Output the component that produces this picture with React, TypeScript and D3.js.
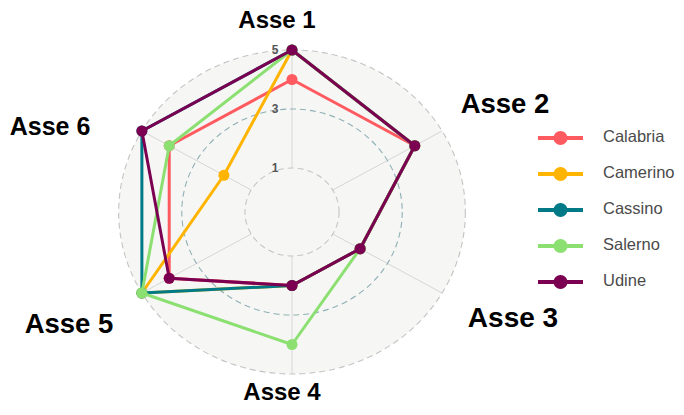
import { useEffect, useRef } from 'react';
import * as d3 from 'd3';

// axes, series and values
const axes = ['Asse 1', 'Asse 2', 'Asse 3', 'Asse 4', 'Asse 5', 'Asse 6'];
const seriesNames = ['Calabria', 'Camerino', 'Cassino', 'Salerno', 'Udine'];
const calabria = [4, 4, 2, 2, 4, 4];
const camerino = [5, 4, 2, 2, 5, 2];
const cassino = [5, 4, 2, 2, 5, 5];
const salerno = [5, 4, 2, 4, 5, 4];
const udine = [5, 4, 2, 2, 4, 5];
const gridValues = [1, 3, 5];
const gridLabels = ['1', '3', '5'];

const colors = ['#FF5A5F', '#FFB400', '#007A87', '#8CE071', '#7B0051'];

// where the big axis titles sit (they are pasted over the plot, not on a circle)
const titleLayout = [
  { x: 277, y: 28, size: 24 },
  { x: 505, y: 113, size: 27.5 },
  { x: 513, y: 327, size: 28 },
  { x: 282, y: 400, size: 24 },
  { x: 69, y: 333, size: 27.5 },
  { x: 50, y: 135, size: 25 },
];

const width = 684;
const height = 415;

const App = () => {
  const svgRef = useRef<SVGSVGElement>(null);

  useEffect(() => {
    if (!svgRef.current) return;
    const svg = d3.select(svgRef.current);
    svg.selectAll('*').remove();

    const cx = 292;
    const cy = 212;
    const sx = 1.07; // the picture is a bit wider than tall

    const r = d3.scaleLinear().domain([1, 5]).range([44, 162]);
    const angle = d3.scaleLinear().domain([0, axes.length]).range([0, 2 * Math.PI]);

    const px = (i: number, v: number) => cx + sx * r(v) * Math.sin(angle(i));
    const py = (i: number, v: number) => cy - r(v) * Math.cos(angle(i));

    const g = svg.append('g');

    // background disc
    g.append('ellipse')
      .attr('cx', cx)
      .attr('cy', cy)
      .attr('rx', sx * r(5))
      .attr('ry', r(5))
      .attr('fill', '#F6F6F5');

    // axis lines
    g.selectAll('.axis')
      .data(axes)
      .enter()
      .append('line')
      .attr('x1', (d, i) => px(i, 1))
      .attr('y1', (d, i) => py(i, 1))
      .attr('x2', (d, i) => px(i, 5))
      .attr('y2', (d, i) => py(i, 5))
      .attr('stroke', '#d6d6d6')
      .attr('stroke-width', 1);

    // grid rings
    g.selectAll('.ring')
      .data(gridValues)
      .enter()
      .append('ellipse')
      .attr('cx', cx)
      .attr('cy', cy)
      .attr('rx', d => sx * r(d))
      .attr('ry', d => r(d))
      .attr('fill', 'none')
      .attr('stroke', (d, i) => (i === 1 ? '#8fb0b4' : '#c4c4c4'))
      .attr('stroke-width', 1.1)
      .attr('stroke-dasharray', '6,4');

    // grid labels
    g.selectAll('.gridLabel')
      .data(gridValues)
      .enter()
      .append('text')
      .attr('x', cx - 17)
      .attr('y', d => cy - r(d) + 1)
      .attr('dominant-baseline', 'middle')
      .attr('text-anchor', 'middle')
      .style('font-family', 'Liberation Sans, Arial, sans-serif')
      .style('font-size', '12px')
      .style('font-weight', 'bold')
      .style('fill', '#555')
      .text((d, i) => gridLabels[i]);

    const series = [calabria, camerino, cassino, salerno, udine];

    const line = d3.line<number>()
      .x((d, i) => px(i, d))
      .y((d, i) => py(i, d))
      .curve(d3.curveLinearClosed);

    series.forEach((vals, s) => {
      const sg = g.append('g');
      sg.append('path')
        .attr('d', line(vals))
        .attr('fill', 'none')
        .attr('stroke', colors[s])
        .attr('stroke-width', 3)
        .attr('stroke-linejoin', 'round');
      sg.selectAll('circle')
        .data(vals)
        .enter()
        .append('circle')
        .attr('cx', (d, i) => px(i, d))
        .attr('cy', (d, i) => py(i, d))
        .attr('r', 5.5)
        .attr('fill', colors[s]);
    });

    // axis titles
    svg.selectAll('.title')
      .data(axes)
      .enter()
      .append('text')
      .attr('x', (d, i) => titleLayout[i].x)
      .attr('y', (d, i) => titleLayout[i].y)
      .attr('text-anchor', 'middle')
      .style('font-family', 'Liberation Sans, Arial, sans-serif')
      .style('font-size', (d, i) => `${titleLayout[i].size}px`)
      .style('font-weight', 'bold')
      .style('fill', '#000')
      .text(d => d);

    // legend
    const legendY = d3.scalePoint<string>()
      .domain(seriesNames)
      .range([138, 282]);

    const legend = svg.selectAll('.legend')
      .data(seriesNames)
      .enter()
      .append('g')
      .attr('transform', d => `translate(538,${legendY(d)})`);

    legend.append('line')
      .attr('x1', 0)
      .attr('x2', 45)
      .attr('stroke', (d, i) => colors[i])
      .attr('stroke-width', 4);

    legend.append('circle')
      .attr('cx', 22.5)
      .attr('r', 7)
      .attr('fill', (d, i) => colors[i]);

    legend.append('text')
      .attr('x', 65)
      .attr('y', 0)
      .attr('dominant-baseline', 'middle')
      .style('font-family', 'Liberation Sans, Arial, sans-serif')
      .style('font-size', '16.5px')
      .style('fill', '#4a4a4a')
      .text(d => d);
  }, []);

  return (
    <svg
      ref={svgRef}
      width={width}
      height={height}
      style={{ display: 'block', position: 'absolute', left: 0, top: 0, background: '#fff' }}
    ></svg>
  );
};

export default App;
